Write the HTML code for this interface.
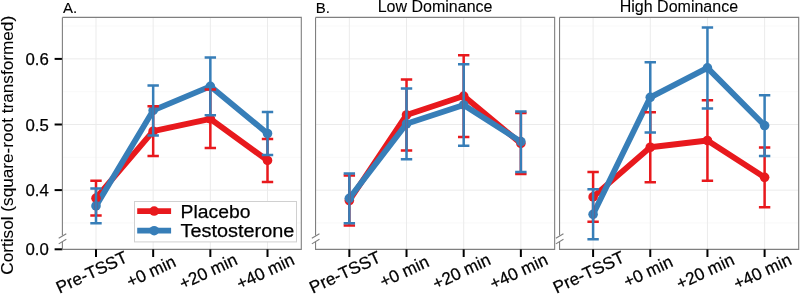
<!DOCTYPE html><html><head><meta charset="utf-8"><style>html,body{margin:0;padding:0;background:#fff;width:800px;height:294px;overflow:hidden}svg{display:block;will-change:transform}text{font-family:"Liberation Sans",sans-serif;fill:#000;stroke:#000;stroke-width:0.25px}</style></head><body>
<svg width="800" height="294" viewBox="0 0 800 294">
<rect width="800" height="294" fill="#fff"/>
<text transform="translate(13.4,145.3) rotate(-90)" text-anchor="middle" font-size="17.2" style="stroke-width:0.1px">Cortisol (square-root transformed)</text>
<text x="48.8" y="64.8" text-anchor="end" font-size="16.8">0.6</text>
<line x1="54.6" y1="58.9" x2="62.4" y2="58.9" stroke="#000" stroke-width="2"/>
<text x="48.8" y="130.5" text-anchor="end" font-size="16.8">0.5</text>
<line x1="54.6" y1="124.5" x2="62.4" y2="124.5" stroke="#000" stroke-width="2"/>
<text x="48.8" y="196.1" text-anchor="end" font-size="16.8">0.4</text>
<line x1="54.6" y1="190.1" x2="62.4" y2="190.1" stroke="#000" stroke-width="2"/>
<text x="48.8" y="255.2" text-anchor="end" font-size="16.8">0.0</text>
<line x1="54.6" y1="249.3" x2="62.4" y2="249.3" stroke="#000" stroke-width="2"/>
<text x="63.1" y="12.6" font-size="15" style="stroke-width:0.1px">A.</text>
<text x="315.8" y="12.6" font-size="15" style="stroke-width:0.1px">B.</text>
<text x="435.1" y="12" text-anchor="middle" font-size="16" style="stroke-width:0.1px">Low Dominance</text>
<text x="678.9" y="12" text-anchor="middle" font-size="16" style="stroke-width:0.1px">High Dominance</text>
<line x1="62.4" y1="222.97" x2="301.3" y2="222.97" stroke="#FAFAFA" stroke-width="1.2"/>
<line x1="62.4" y1="157.32" x2="301.3" y2="157.32" stroke="#FAFAFA" stroke-width="1.2"/>
<line x1="62.4" y1="91.67" x2="301.3" y2="91.67" stroke="#FAFAFA" stroke-width="1.2"/>
<line x1="62.4" y1="26.02" x2="301.3" y2="26.02" stroke="#FAFAFA" stroke-width="1.2"/>
<line x1="62.4" y1="190.15" x2="301.3" y2="190.15" stroke="#EBEBEB" stroke-width="1"/>
<line x1="62.4" y1="124.50" x2="301.3" y2="124.50" stroke="#EBEBEB" stroke-width="1"/>
<line x1="62.4" y1="58.85" x2="301.3" y2="58.85" stroke="#EBEBEB" stroke-width="1"/>
<line x1="96.00" y1="17.4" x2="96.00" y2="249.35" stroke="#EBEBEB" stroke-width="1"/>
<line x1="153.17" y1="17.4" x2="153.17" y2="249.35" stroke="#EBEBEB" stroke-width="1"/>
<line x1="210.34" y1="17.4" x2="210.34" y2="249.35" stroke="#EBEBEB" stroke-width="1"/>
<line x1="267.51" y1="17.4" x2="267.51" y2="249.35" stroke="#EBEBEB" stroke-width="1"/>
<path d="M62.4,17.4 H301.3 V249.35 H62.4 V241.6 M62.4,235.5 V17.4" fill="none" stroke="#7F7F7F" stroke-width="1.1"/>
<path d="M58.70,238.3 L66.30,233.7 M58.70,243.9 L66.30,239.3" stroke="#7F7F7F" stroke-width="1.1" fill="none"/>
<line x1="96.00" y1="249.35" x2="96.00" y2="257" stroke="#000" stroke-width="2"/>
<line x1="153.17" y1="249.35" x2="153.17" y2="257" stroke="#000" stroke-width="2"/>
<line x1="210.34" y1="249.35" x2="210.34" y2="257" stroke="#000" stroke-width="2"/>
<line x1="267.51" y1="249.35" x2="267.51" y2="257" stroke="#000" stroke-width="2"/>
<polyline points="96.00,198.15 153.17,131.20 210.34,118.80 267.51,160.45" fill="none" stroke="#E8191D" stroke-width="5.8" stroke-linejoin="round" stroke-linecap="butt"/>
<polyline points="96.00,205.90 153.17,110.45 210.34,86.35 267.51,133.50" fill="none" stroke="#377EB8" stroke-width="5.8" stroke-linejoin="round" stroke-linecap="butt"/>
<circle cx="96.00" cy="198.15" r="4.8" fill="#E8191D"/>
<circle cx="153.17" cy="131.20" r="4.8" fill="#E8191D"/>
<circle cx="210.34" cy="118.80" r="4.8" fill="#E8191D"/>
<circle cx="267.51" cy="160.45" r="4.8" fill="#E8191D"/>
<circle cx="96.00" cy="205.90" r="4.8" fill="#377EB8"/>
<circle cx="153.17" cy="110.45" r="4.8" fill="#377EB8"/>
<circle cx="210.34" cy="86.35" r="4.8" fill="#377EB8"/>
<circle cx="267.51" cy="133.50" r="4.8" fill="#377EB8"/>
<path d="M90.30,180.7 H101.70 M96.00,180.7 V215.6 M90.30,215.6 H101.70" stroke="#E8191D" stroke-width="2.5" fill="none"/>
<path d="M147.47,106.3 H158.87 M153.17,106.3 V156.1 M147.47,156.1 H158.87" stroke="#E8191D" stroke-width="2.5" fill="none"/>
<path d="M204.64,89.6 H216.04 M210.34,89.6 V148.0 M204.64,148.0 H216.04" stroke="#E8191D" stroke-width="2.5" fill="none"/>
<path d="M261.81,139.0 H273.21 M267.51,139.0 V181.9 M261.81,181.9 H273.21" stroke="#E8191D" stroke-width="2.5" fill="none"/>
<path d="M90.30,188.5 H101.70 M96.00,188.5 V223.3 M90.30,223.3 H101.70" stroke="#377EB8" stroke-width="2.5" fill="none"/>
<path d="M147.47,85.5 H158.87 M153.17,85.5 V135.4 M147.47,135.4 H158.87" stroke="#377EB8" stroke-width="2.5" fill="none"/>
<path d="M204.64,57.4 H216.04 M210.34,57.4 V115.3 M204.64,115.3 H216.04" stroke="#377EB8" stroke-width="2.5" fill="none"/>
<path d="M261.81,112.0 H273.21 M267.51,112.0 V155.0 M261.81,155.0 H273.21" stroke="#377EB8" stroke-width="2.5" fill="none"/>
<text transform="translate(94.10,277.5) rotate(-25)" text-anchor="middle" font-size="17.2">Pre-TSST</text>
<text transform="translate(153.47,276.7) rotate(-25)" text-anchor="middle" font-size="17.2">+0 min</text>
<text transform="translate(210.64,276.7) rotate(-25)" text-anchor="middle" font-size="17.2">+20 min</text>
<text transform="translate(267.81,276.7) rotate(-25)" text-anchor="middle" font-size="17.2">+40 min</text>
<line x1="315.55" y1="222.97" x2="554.65" y2="222.97" stroke="#FAFAFA" stroke-width="1.2"/>
<line x1="315.55" y1="157.32" x2="554.65" y2="157.32" stroke="#FAFAFA" stroke-width="1.2"/>
<line x1="315.55" y1="91.67" x2="554.65" y2="91.67" stroke="#FAFAFA" stroke-width="1.2"/>
<line x1="315.55" y1="26.02" x2="554.65" y2="26.02" stroke="#FAFAFA" stroke-width="1.2"/>
<line x1="315.55" y1="190.15" x2="554.65" y2="190.15" stroke="#EBEBEB" stroke-width="1"/>
<line x1="315.55" y1="124.50" x2="554.65" y2="124.50" stroke="#EBEBEB" stroke-width="1"/>
<line x1="315.55" y1="58.85" x2="554.65" y2="58.85" stroke="#EBEBEB" stroke-width="1"/>
<line x1="349.35" y1="17.4" x2="349.35" y2="249.35" stroke="#EBEBEB" stroke-width="1"/>
<line x1="406.52" y1="17.4" x2="406.52" y2="249.35" stroke="#EBEBEB" stroke-width="1"/>
<line x1="463.69" y1="17.4" x2="463.69" y2="249.35" stroke="#EBEBEB" stroke-width="1"/>
<line x1="520.86" y1="17.4" x2="520.86" y2="249.35" stroke="#EBEBEB" stroke-width="1"/>
<path d="M315.55,17.4 H554.65 V249.35 H315.55 V241.6 M315.55,235.5 V17.4" fill="none" stroke="#7F7F7F" stroke-width="1.1"/>
<path d="M311.85,238.3 L319.45,233.7 M311.85,243.9 L319.45,239.3" stroke="#7F7F7F" stroke-width="1.1" fill="none"/>
<line x1="349.35" y1="249.35" x2="349.35" y2="257" stroke="#000" stroke-width="2"/>
<line x1="406.52" y1="249.35" x2="406.52" y2="257" stroke="#000" stroke-width="2"/>
<line x1="463.69" y1="249.35" x2="463.69" y2="257" stroke="#000" stroke-width="2"/>
<line x1="520.86" y1="249.35" x2="520.86" y2="257" stroke="#000" stroke-width="2"/>
<polyline points="349.35,200.50 406.52,114.95 463.69,96.10 520.86,143.45" fill="none" stroke="#E8191D" stroke-width="5.8" stroke-linejoin="round" stroke-linecap="butt"/>
<polyline points="349.35,198.35 406.52,123.80 463.69,104.95 520.86,141.65" fill="none" stroke="#377EB8" stroke-width="5.8" stroke-linejoin="round" stroke-linecap="butt"/>
<circle cx="349.35" cy="200.50" r="4.8" fill="#E8191D"/>
<circle cx="406.52" cy="114.95" r="4.8" fill="#E8191D"/>
<circle cx="463.69" cy="96.10" r="4.8" fill="#E8191D"/>
<circle cx="520.86" cy="143.45" r="4.8" fill="#E8191D"/>
<circle cx="349.35" cy="198.35" r="4.8" fill="#377EB8"/>
<circle cx="406.52" cy="123.80" r="4.8" fill="#377EB8"/>
<circle cx="463.69" cy="104.95" r="4.8" fill="#377EB8"/>
<circle cx="520.86" cy="141.65" r="4.8" fill="#377EB8"/>
<path d="M343.65,175.4 H355.05 M349.35,175.4 V225.6 M343.65,225.6 H355.05" stroke="#E8191D" stroke-width="2.5" fill="none"/>
<path d="M400.82,79.5 H412.22 M406.52,79.5 V150.4 M400.82,150.4 H412.22" stroke="#E8191D" stroke-width="2.5" fill="none"/>
<path d="M457.99,55.2 H469.39 M463.69,55.2 V137.0 M457.99,137.0 H469.39" stroke="#E8191D" stroke-width="2.5" fill="none"/>
<path d="M515.16,113.0 H526.56 M520.86,113.0 V173.9 M515.16,173.9 H526.56" stroke="#E8191D" stroke-width="2.5" fill="none"/>
<path d="M343.65,173.4 H355.05 M349.35,173.4 V223.3 M343.65,223.3 H355.05" stroke="#377EB8" stroke-width="2.5" fill="none"/>
<path d="M400.82,88.4 H412.22 M406.52,88.4 V159.2 M400.82,159.2 H412.22" stroke="#377EB8" stroke-width="2.5" fill="none"/>
<path d="M457.99,64.2 H469.39 M463.69,64.2 V145.7 M457.99,145.7 H469.39" stroke="#377EB8" stroke-width="2.5" fill="none"/>
<path d="M515.16,111.4 H526.56 M520.86,111.4 V171.9 M515.16,171.9 H526.56" stroke="#377EB8" stroke-width="2.5" fill="none"/>
<text transform="translate(347.45,277.5) rotate(-25)" text-anchor="middle" font-size="17.2">Pre-TSST</text>
<text transform="translate(406.82,276.7) rotate(-25)" text-anchor="middle" font-size="17.2">+0 min</text>
<text transform="translate(463.99,276.7) rotate(-25)" text-anchor="middle" font-size="17.2">+20 min</text>
<text transform="translate(521.16,276.7) rotate(-25)" text-anchor="middle" font-size="17.2">+40 min</text>
<line x1="559.55" y1="222.97" x2="798.7" y2="222.97" stroke="#FAFAFA" stroke-width="1.2"/>
<line x1="559.55" y1="157.32" x2="798.7" y2="157.32" stroke="#FAFAFA" stroke-width="1.2"/>
<line x1="559.55" y1="91.67" x2="798.7" y2="91.67" stroke="#FAFAFA" stroke-width="1.2"/>
<line x1="559.55" y1="26.02" x2="798.7" y2="26.02" stroke="#FAFAFA" stroke-width="1.2"/>
<line x1="559.55" y1="190.15" x2="798.7" y2="190.15" stroke="#EBEBEB" stroke-width="1"/>
<line x1="559.55" y1="124.50" x2="798.7" y2="124.50" stroke="#EBEBEB" stroke-width="1"/>
<line x1="559.55" y1="58.85" x2="798.7" y2="58.85" stroke="#EBEBEB" stroke-width="1"/>
<line x1="593.10" y1="17.4" x2="593.10" y2="249.35" stroke="#EBEBEB" stroke-width="1"/>
<line x1="650.27" y1="17.4" x2="650.27" y2="249.35" stroke="#EBEBEB" stroke-width="1"/>
<line x1="707.44" y1="17.4" x2="707.44" y2="249.35" stroke="#EBEBEB" stroke-width="1"/>
<line x1="764.61" y1="17.4" x2="764.61" y2="249.35" stroke="#EBEBEB" stroke-width="1"/>
<path d="M559.55,17.4 H798.7 V249.35 H559.55 V241.6 M559.55,235.5 V17.4" fill="none" stroke="#7F7F7F" stroke-width="1.1"/>
<path d="M555.85,238.3 L563.45,233.7 M555.85,243.9 L563.45,239.3" stroke="#7F7F7F" stroke-width="1.1" fill="none"/>
<line x1="593.10" y1="249.35" x2="593.10" y2="257" stroke="#000" stroke-width="2"/>
<line x1="650.27" y1="249.35" x2="650.27" y2="257" stroke="#000" stroke-width="2"/>
<line x1="707.44" y1="249.35" x2="707.44" y2="257" stroke="#000" stroke-width="2"/>
<line x1="764.61" y1="249.35" x2="764.61" y2="257" stroke="#000" stroke-width="2"/>
<polyline points="593.10,196.90 650.27,147.25 707.44,140.50 764.61,177.35" fill="none" stroke="#E8191D" stroke-width="5.8" stroke-linejoin="round" stroke-linecap="butt"/>
<polyline points="593.10,214.30 650.27,97.30 707.44,67.90 764.61,125.55" fill="none" stroke="#377EB8" stroke-width="5.8" stroke-linejoin="round" stroke-linecap="butt"/>
<circle cx="593.10" cy="196.90" r="4.8" fill="#E8191D"/>
<circle cx="650.27" cy="147.25" r="4.8" fill="#E8191D"/>
<circle cx="707.44" cy="140.50" r="4.8" fill="#E8191D"/>
<circle cx="764.61" cy="177.35" r="4.8" fill="#E8191D"/>
<circle cx="593.10" cy="214.30" r="4.8" fill="#377EB8"/>
<circle cx="650.27" cy="97.30" r="4.8" fill="#377EB8"/>
<circle cx="707.44" cy="67.90" r="4.8" fill="#377EB8"/>
<circle cx="764.61" cy="125.55" r="4.8" fill="#377EB8"/>
<path d="M587.40,172.1 H598.80 M593.10,172.1 V221.7 M587.40,221.7 H598.80" stroke="#E8191D" stroke-width="2.5" fill="none"/>
<path d="M644.57,112.2 H655.97 M650.27,112.2 V182.3 M644.57,182.3 H655.97" stroke="#E8191D" stroke-width="2.5" fill="none"/>
<path d="M701.74,100.2 H713.14 M707.44,100.2 V180.8 M701.74,180.8 H713.14" stroke="#E8191D" stroke-width="2.5" fill="none"/>
<path d="M758.91,147.4 H770.31 M764.61,147.4 V207.3 M758.91,207.3 H770.31" stroke="#E8191D" stroke-width="2.5" fill="none"/>
<path d="M587.40,189.3 H598.80 M593.10,189.3 V239.3 M587.40,239.3 H598.80" stroke="#377EB8" stroke-width="2.5" fill="none"/>
<path d="M644.57,62.2 H655.97 M650.27,62.2 V132.4 M644.57,132.4 H655.97" stroke="#377EB8" stroke-width="2.5" fill="none"/>
<path d="M701.74,27.4 H713.14 M707.44,27.4 V108.4 M701.74,108.4 H713.14" stroke="#377EB8" stroke-width="2.5" fill="none"/>
<path d="M758.91,95.2 H770.31 M764.61,95.2 V155.9 M758.91,155.9 H770.31" stroke="#377EB8" stroke-width="2.5" fill="none"/>
<text transform="translate(591.20,277.5) rotate(-25)" text-anchor="middle" font-size="17.2">Pre-TSST</text>
<text transform="translate(650.57,276.7) rotate(-25)" text-anchor="middle" font-size="17.2">+0 min</text>
<text transform="translate(707.74,276.7) rotate(-25)" text-anchor="middle" font-size="17.2">+20 min</text>
<text transform="translate(764.91,276.7) rotate(-25)" text-anchor="middle" font-size="17.2">+40 min</text>
<rect x="134.5" y="201.5" width="162" height="40.4" fill="#fff" stroke="#D0D0D0" stroke-width="1"/>
<line x1="137.2" y1="211.05" x2="171.1" y2="211.05" stroke="#E8191D" stroke-width="5.8"/>
<circle cx="154.15" cy="211.05" r="4.8" fill="#E8191D"/>
<text x="180.6" y="217.5" font-size="19.2" textLength="69.8" lengthAdjust="spacingAndGlyphs">Placebo</text>
<line x1="137.2" y1="230.7" x2="171.1" y2="230.7" stroke="#377EB8" stroke-width="5.8"/>
<circle cx="154.15" cy="230.7" r="4.8" fill="#377EB8"/>
<text x="180.6" y="237.3" font-size="19.2" textLength="113.8" lengthAdjust="spacingAndGlyphs">Testosterone</text>
</svg></body></html>
